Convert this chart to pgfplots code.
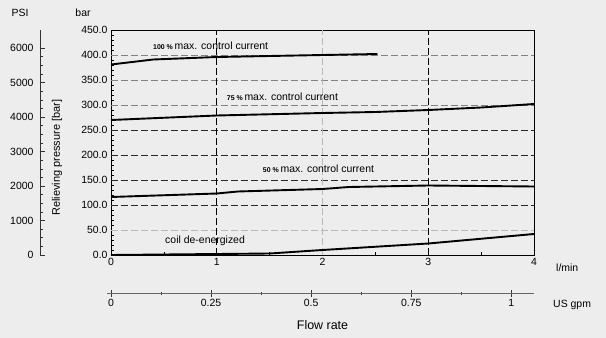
\documentclass[border=0pt]{standalone}
\usepackage{fontspec}
\setmainfont{Liberation Sans}
\usepackage{pgfplots}
\pgfplotsset{compat=1.18}
\definecolor{bg}{RGB}{236,237,236}
\definecolor{gdark}{RGB}{40,40,40}
\definecolor{gmid}{RGB}{130,130,130}
\definecolor{glight}{RGB}{185,185,185}
\newcommand{\fs}{\fontsize{10.5}{12}\selectfont}
\begin{document}
\begin{tikzpicture}
\fill[bg] (-111bp,-83bp) rectangle (495bp,255bp);
\path[use as bounding box] (-111bp,-83bp) rectangle (495bp,255bp);
% PSI axis
\begin{axis}[at={(-71bp,0)}, anchor=south west, scale only axis,
  width=10bp, height=225bp, hide x axis, axis y line*=left,
  xmin=0, xmax=1, ymin=0, ymax=6526.7,
  ytick={0,1000,...,6000}, minor y tick num=3,
  tick align=inside, major tick length=5bp, minor tick length=3bp,
  axis line style={-, line width=0.6bp, black!80},
  tick style={black!80, line width=0.6bp},
  /pgf/number format/assume math mode=true,
  /pgf/number format/1000 sep={},
  yticklabel style={font=\fs, xshift=-3bp},
]
\end{axis}
% gpm axis
\begin{axis}[at={(0,-38bp)}, anchor=south west, scale only axis,
  width=423bp, height=10bp, hide y axis, axis x line*=bottom,
  xmin=0, xmax=1.05669, ymin=0, ymax=1,
  xtick={0,0.25,0.5,0.75,1}, xticklabels={0,0.25,0.5,0.75,1},
  minor x tick num=1,
  tick align=center, major tick length=7bp, minor tick length=3bp,
  axis line style={-, line width=0.5bp, black!60, shorten <=-4bp},
  tick style={black!80, line width=0.6bp},
  xticklabel style={font=\fs, yshift=1bp},
  xlabel={Flow rate}, xlabel style={font=\fontsize{12.5}{14}\selectfont, yshift=-7bp},
]
\end{axis}
% main axis
\begin{axis}[at={(0,0)}, anchor=south west, scale only axis,
  width=423bp, height=225bp,
  xmin=0, xmax=4, ymin=0, ymax=450,
  xtick={0,1,2,3,4}, minor x tick num=1,
  ytick={0,50,...,450}, minor y tick num=4,
  tick align=inside, xtick pos=bottom, ytick pos=left,
  major tick length=5bp, minor tick length=3bp,
  axis line style={line width=0.8bp},
  tick style={black, line width=0.6bp},
  /pgf/number format/assume math mode=true,
  yticklabel style={font=\fs, /pgf/number format/fixed, /pgf/number format/fixed zerofill, /pgf/number format/precision=1},
  xticklabel style={font=\fs},
  clip=false,
]
% grid
\draw[gdark, dash pattern=on 7bp off 3bp, line width=0.6bp] (axis cs:0,100) -- (axis cs:4,100);
\draw[gdark, dash pattern=on 7bp off 3bp, line width=0.6bp] (axis cs:0,150) -- (axis cs:4,150);
\draw[gdark, dash pattern=on 7bp off 3bp, line width=0.6bp] (axis cs:0,200) -- (axis cs:4,200);
\draw[gdark, dash pattern=on 7bp off 3bp, line width=0.6bp] (axis cs:0,250) -- (axis cs:4,250);
\draw[gmid, dash pattern=on 7bp off 3bp, line width=0.6bp] (axis cs:0,300) -- (axis cs:4,300);
\draw[gmid, dash pattern=on 7bp off 3bp, line width=0.6bp] (axis cs:0,350) -- (axis cs:4,350);
\draw[gmid, dash pattern=on 7bp off 3bp, line width=0.6bp] (axis cs:0,400) -- (axis cs:4,400);
\draw[glight, dash pattern=on 7bp off 3bp, line width=0.6bp] (axis cs:0,50) -- (axis cs:4,50);
\draw[black, dash pattern=on 7bp off 3bp, line width=0.7bp] (axis cs:1,0) -- (axis cs:1,450);
\draw[black, dash pattern=on 7bp off 3bp, line width=0.7bp] (axis cs:3,0) -- (axis cs:3,450);
\draw[glight, dash pattern=on 7bp off 3bp, line width=0.6bp] (axis cs:2,0) -- (axis cs:2,450);
% curves
\addplot[black, line width=1.9bp] coordinates {(0,381) (0.4,391) (1,396) (1.5,398) (2,400) (2.52,402)};
\addplot[black, line width=1.9bp] coordinates {(0,270) (1,279) (2,284) (2.5,286) (3,290) (3.5,295) (4,302)};
\addplot[black, line width=1.9bp] coordinates {(0,116) (1,123) (1.2,127) (2,132) (2.25,136) (3,139) (4,137)};
\addplot[black, line width=1.9bp] coordinates {(0,0) (1,2) (1.5,3) (2,10) (3,23) (4,42)};
% labels
\node[anchor=west, inner sep=0, font=\fs] at (axis cs:0.397,418.6) {{\fontsize{7}{8}\selectfont\bfseries 100 \%}\,max. control current};
\node[anchor=west, inner sep=0, font=\fs] at (axis cs:1.094,316.6) {{\fontsize{7}{8}\selectfont\bfseries 75 \%}\,max. control current};
\node[anchor=west, inner sep=0, font=\fs] at (axis cs:1.435,172) {{\fontsize{7}{8}\selectfont\bfseries 50 \%}\,max. control current};
\node[anchor=west, inner sep=0, font=\fs] at (axis cs:0.511,28) {coil de-energized};
\node[anchor=west, inner sep=0, font=\fs] at ([xshift=22bp, yshift=-13bp]rel axis cs:1,0) {l/min};
\node[anchor=west, inner sep=0, font=\fs] at ([xshift=19bp, yshift=-50bp]rel axis cs:1,0) {US gpm};
\node[rotate=90, inner sep=0, font=\fontsize{11}{13}\selectfont] at ([xshift=-54bp]rel axis cs:0,0.433) {Relieving pressure [bar]};
\node[inner sep=0, font=\fs] at ([xshift=-91bp, yshift=17bp]rel axis cs:0,1) {PSI};
\node[inner sep=0, font=\fs] at ([xshift=-28bp, yshift=17bp]rel axis cs:0,1) {bar};
\end{axis}
\end{tikzpicture}
\end{document}
